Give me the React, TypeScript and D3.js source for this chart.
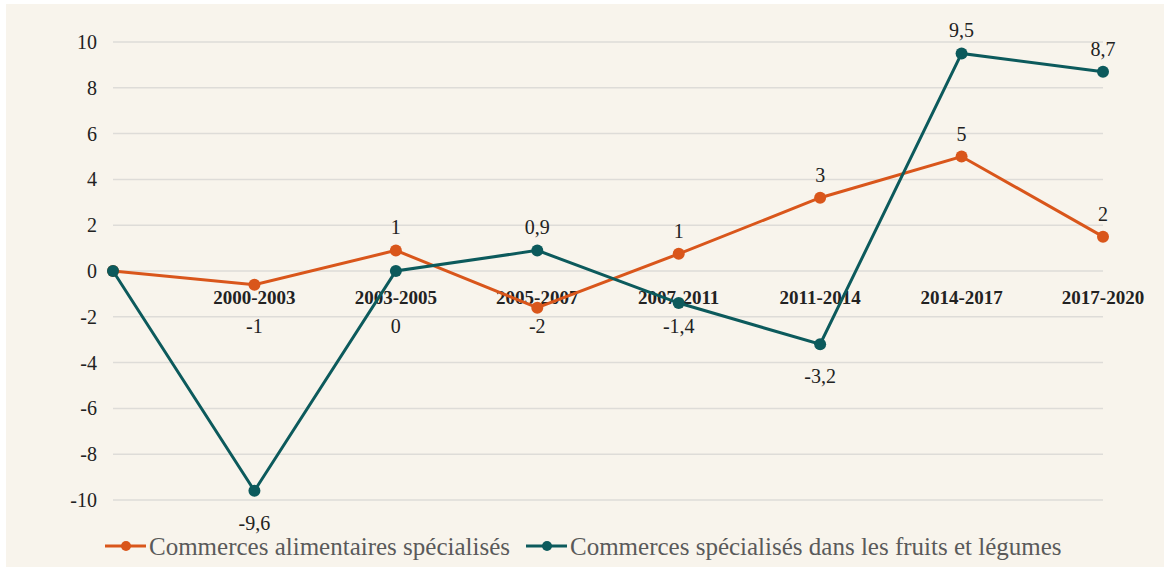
import React, { useEffect, useRef } from 'react';
import * as d3 from 'd3';

const categories = ['', '2000-2003', '2003-2005', '2005-2007', '2007-2011', '2011-2014', '2014-2017', '2017-2020'];
const alimentaires = [0, -0.6, 0.9, -1.6, 0.75, 3.2, 5.0, 1.5];
const fruitsLegumes = [0, -9.6, 0, 0.9, -1.4, -3.2, 9.5, 8.7];
const yTicks = [-10, -8, -6, -4, -2, 0, 2, 4, 6, 8, 10];

const series = [
  { name: 'Commerces alimentaires spécialisés', values: alimentaires, color: '#d9561b', decimals: 0 },
  { name: 'Commerces spécialisés dans les fruits et légumes', values: fruitsLegumes, color: '#0c5a5c', decimals: 1 },
];

const W = 1164;
const H = 567;
const FONT = '"Liberation Serif", "DejaVu Serif", serif';

export default function App() {
  const ref = useRef<SVGSVGElement>(null);

  useEffect(() => {
    const svg = d3.select(ref.current);
    svg.selectAll('*').remove();

    svg.append('rect')
      .attr('x', 6).attr('y', 4)
      .attr('width', W - 6).attr('height', H - 4)
      .attr('fill', '#f8f4ec');

    const x = d3.scalePoint<string>().domain(categories).range([113, 1103]);
    const y = d3.scaleLinear().domain([-10, 10]).range([500, 42]);

    // grid + y labels
    const grid = svg.append('g');
    grid.selectAll('line')
      .data(yTicks)
      .enter()
      .append('line')
      .attr('x1', 113).attr('x2', 1103)
      .attr('y1', d => y(d)).attr('y2', d => y(d))
      .attr('stroke', '#dedcd8')
      .attr('stroke-width', 1.5);

    grid.selectAll('text')
      .data(yTicks)
      .enter()
      .append('text')
      .attr('x', 97)
      .attr('y', d => y(d))
      .attr('dy', '0.35em')
      .attr('text-anchor', 'end')
      .attr('font-family', FONT)
      .attr('font-size', 20)
      .attr('fill', '#222')
      .text(d => d);

    // category labels
    svg.append('g').selectAll('text')
      .data(categories.filter(c => c !== ''))
      .enter()
      .append('text')
      .attr('x', d => x(d)!)
      .attr('y', y(0) + 26)
      .attr('dy', '0.35em')
      .attr('text-anchor', 'middle')
      .attr('font-family', FONT)
      .attr('font-weight', 'bold')
      .attr('font-size', 19)
      .attr('fill', '#222')
      .text(d => d);

    const line = d3.line<number>()
      .x((_, i) => x(categories[i])!)
      .y(d => y(d));

    series.forEach(s => {
      const g = svg.append('g');
      g.append('path')
        .datum(s.values)
        .attr('d', line)
        .attr('fill', 'none')
        .attr('stroke', s.color)
        .attr('stroke-width', 3);

      g.selectAll('circle')
        .data(s.values)
        .enter()
        .append('circle')
        .attr('cx', (_, i) => x(categories[i])!)
        .attr('cy', d => y(d))
        .attr('r', 6)
        .attr('fill', s.color);

      const fmt = (v: number) => {
        const r = s.decimals ? +v.toFixed(1) : Math.round(v);
        return String(r === 0 ? 0 : r).replace('.', ',');
      };
      g.selectAll('text')
        .data(s.values.map((v, i) => ({ v, i })).filter(d => d.i > 0))
        .enter()
        .append('text')
        .attr('x', d => x(categories[d.i])!)
        .attr('y', d => {
          const py = y(d.v);
          if (d.v > 0) return py - 23;
          return py > y(0) + 60 ? py + 32 : y(0) + 55;
        })
        .attr('dy', '0.35em')
        .attr('text-anchor', 'middle')
        .attr('font-family', FONT)
        .attr('font-size', 20)
        .attr('fill', '#222')
        .text(d => fmt(d.v));
    });

    // legend
    const legendItems = [
      { s: series[0], x0: 105 },
      { s: series[1], x0: 526 },
    ];
    const ly = 546;
    legendItems.forEach(({ s, x0 }) => {
      const lg = svg.append('g');
      lg.append('line')
        .attr('x1', x0).attr('x2', x0 + 41)
        .attr('y1', ly).attr('y2', ly)
        .attr('stroke', s.color)
        .attr('stroke-width', 3);
      lg.append('circle')
        .attr('cx', x0 + 21).attr('cy', ly)
        .attr('r', 5)
        .attr('fill', s.color);
      lg.append('text')
        .attr('x', x0 + 44)
        .attr('y', ly)
        .attr('dy', '0.35em')
        .attr('font-family', FONT)
        .attr('font-size', 25)
        .attr('fill', '#5a5a5a')
        .text(s.name);
    });
  }, []);

  return (
    <svg
      ref={ref}
      width={W}
      height={H}
      style={{ position: 'absolute', left: 0, top: 0, background: '#ffffff' }}
    />
  );
}
